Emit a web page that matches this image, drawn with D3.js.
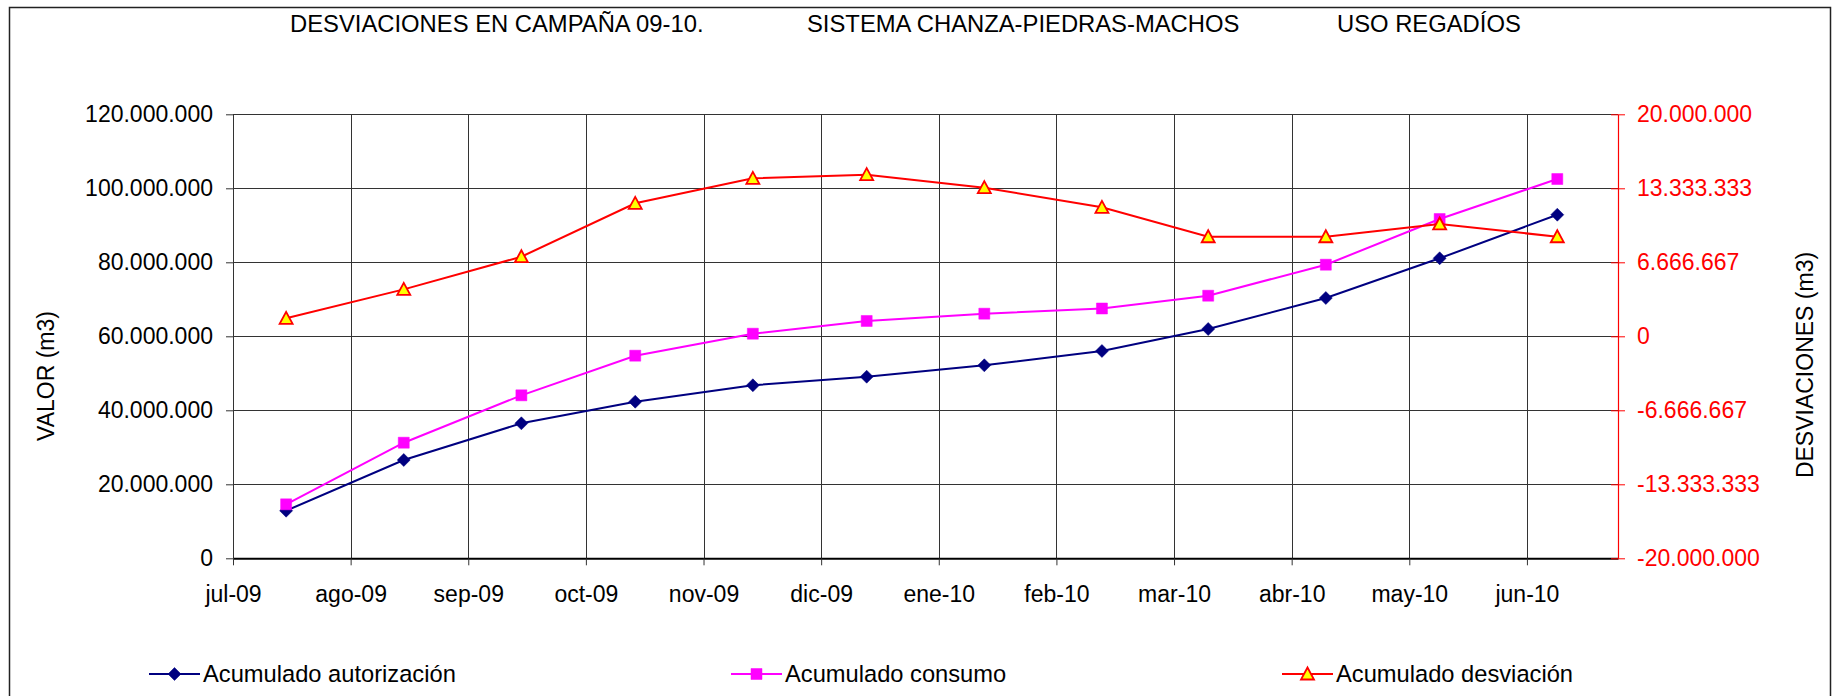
<!DOCTYPE html>
<html>
<head>
<meta charset="utf-8">
<script src="https://cdn.jsdelivr.net/npm/d3@7"></script>
<style>
  html, body { margin: 0; padding: 0; background: #fff; }
  svg { display: block; font-family: "Liberation Sans", Arial, sans-serif; }
</style>
</head>
<body>
<svg id="chart" width="1843" height="696"></svg>
<script>
// ---------- DATA ----------
const titleParts = ["DESVIACIONES EN CAMPAÑA 09-10.", "SISTEMA CHANZA-PIEDRAS-MACHOS", "USO REGADÍOS"];
const dates = ["2009-07-15","2009-08-15","2009-09-15","2009-10-15","2009-11-15","2009-12-15",
               "2010-01-15","2010-02-15","2010-03-15","2010-04-15","2010-05-15","2010-06-15"];
const autorizacion = [12860000, 26570000, 36490000, 42320000, 46760000, 49080000,
                      52160000, 56030000, 61970000, 70350000, 81080000, 92860000];
const consumo      = [14590000, 31240000, 44050000, 54760000, 60700000, 64140000,
                      66110000, 67510000, 70970000, 79350000, 91700000, 102510000];
const desviacion   = [1620000, 4230000, 7170000, 11980000, 14230000, 14560000,
                      13390000, 11620000, 8970000, 8970000, 10120000, 8970000];
const monthLabels = ["jul-09","ago-09","sep-09","oct-09","nov-09","dic-09",
                     "ene-10","feb-10","mar-10","abr-10","may-10","jun-10"];
const leftTicks  = [0, 20000000, 40000000, 60000000, 80000000, 100000000, 120000000];
const rightTicks = [-20000000, -13333333.33, -6666666.67, 0, 6666666.67, 13333333.33, 20000000];
const seriesNames = ["Acumulado autorización", "Acumulado consumo", "Acumulado desviación"];
const axisStart = "2009-07-01", axisEnd = "2010-07-01", tickStepDays = 31;

// ---------- SETUP ----------
(function () {
const svg = d3.select("#chart");
const FS = 23;
const pLeft = 233, pRight = 1618, pTop = 114.3, pBottom = 558.3;
const parse = d3.utcParse("%Y-%m-%d");
const locale = d3.formatLocale({decimal: ",", thousands: ".", grouping: [3], currency: ["", "€"], minus: "-"});
const fmt = locale.format(",.0f");

const x = d3.scaleUtc().domain([parse(axisStart), parse(axisEnd)]).range([pLeft, pRight]);
const yL = d3.scaleLinear().domain([0, 120000000]).range([pBottom, pTop]);
const yR = d3.scaleLinear().domain([-20000000, 20000000]).range([pBottom, pTop]);
const xTicks = monthLabels.map((_, i) => d3.utcDay.offset(parse(axisStart), tickStepDays * i));

// outer frame
svg.append("rect").attr("x", 9.5).attr("y", 7.5).attr("width", 1821).attr("height", 720)
  .attr("fill", "none").attr("stroke", "#222").attr("stroke-width", 1.5);

// title
const titleX = [290, 807, 1337];
titleParts.forEach((t, i) => {
  svg.append("text").attr("x", titleX[i]).attr("y", 32).attr("font-size", 23.8).attr("fill", "#000").text(t);
});

// gridlines
const grid = svg.append("g");
grid.selectAll("line.h").data(leftTicks.slice(1)).join("line")
  .attr("x1", pLeft).attr("x2", pRight)
  .attr("y1", d => Math.round(yL(d)) + 0.5).attr("y2", d => Math.round(yL(d)) + 0.5)
  .attr("stroke", "#333").attr("stroke-width", 1);
grid.selectAll("line.v").data(xTicks.slice(1)).join("line")
  .attr("x1", d => Math.round(x(d)) + 0.5).attr("x2", d => Math.round(x(d)) + 0.5)
  .attr("y1", pTop).attr("y2", pBottom)
  .attr("stroke", "#333").attr("stroke-width", 1);

// left axis
const gL = svg.append("g").attr("transform", `translate(${pLeft},0)`)
  .call(d3.axisLeft(yL).tickValues(leftTicks).tickFormat(fmt).tickSizeInner(7).tickSizeOuter(0).tickPadding(13));
gL.select(".domain").attr("stroke", "#333");
gL.selectAll(".tick line").attr("stroke", "#333");
gL.selectAll("text").attr("font-size", FS).attr("font-family", "Liberation Sans, Arial").attr("fill", "#000");

// x axis
const gX = svg.append("g").attr("transform", `translate(0,${pBottom})`)
  .call(d3.axisBottom(x).tickValues(xTicks).tickFormat((d, i) => monthLabels[i]).tickSizeInner(7).tickSizeOuter(0).tickPadding(20));
gX.select(".domain").attr("stroke", "#000").attr("stroke-width", 2);
gX.selectAll(".tick line").attr("stroke", "#333");
gX.selectAll("text").attr("font-size", FS).attr("font-family", "Liberation Sans, Arial").attr("fill", "#000");

// right axis
const gR = svg.append("g").attr("transform", `translate(${pRight},0)`)
  .call(d3.axisRight(yR).tickValues(rightTicks).tickFormat(fmt).tickSizeInner(7).tickSizeOuter(0).tickPadding(12));
gR.select(".domain").attr("stroke", "#f00").attr("stroke-width", 1.2);
gR.selectAll(".tick line").attr("stroke", "#f00").attr("x1", -7);
gR.selectAll("text").attr("font-size", FS).attr("font-family", "Liberation Sans, Arial").attr("fill", "#f00");

// axis titles
svg.append("text").attr("transform", `translate(46,376) rotate(-90)`).attr("text-anchor", "middle")
  .attr("dy", "0.35em").attr("font-size", FS).attr("fill", "#000").text("VALOR (m3)");
svg.append("text").attr("transform", `translate(1805,365) rotate(-90)`).attr("text-anchor", "middle")
  .attr("dy", "0.35em").attr("font-size", FS).attr("fill", "#000").text("DESVIACIONES (m3)");

// markers
const diamondPath = "M0,-6.5L6.5,0L0,6.5L-6.5,0Z";
const squarePath = "M-5.5,-5.5H5.5V5.5H-5.5Z";
const trianglePath = "M0,-6.5L6.5,5.5L-6.5,5.5Z";

const series = [
  {name: seriesNames[0], values: autorizacion, y: yL, color: "#000080", marker: diamondPath, fill: "#000080", mstroke: "#000080", msw: 0.5},
  {name: seriesNames[1], values: consumo, y: yL, color: "#ff00ff", marker: squarePath, fill: "#ff00ff", mstroke: "#ff00ff", msw: 0.5},
  {name: seriesNames[2], values: desviacion, y: yR, color: "#ff0000", marker: trianglePath, fill: "#ffff00", mstroke: "#ff0000", msw: 1.8}
];

series.forEach(s => {
  const pts = dates.map((d, i) => [x(parse(d)), s.y(s.values[i])]);
  svg.append("path").attr("d", d3.line()(pts)).attr("fill", "none")
    .attr("stroke", s.color).attr("stroke-width", 2);
  svg.append("g").selectAll("path").data(pts).join("path")
    .attr("transform", p => `translate(${p[0]},${p[1]})`)
    .attr("d", s.marker).attr("fill", s.fill).attr("stroke", s.mstroke).attr("stroke-width", s.msw);
});

// legend
const legendX = [149, 731, 1282];
const legendY = 674;
series.forEach((s, i) => {
  const g = svg.append("g").attr("transform", `translate(${legendX[i]},${legendY})`);
  g.append("line").attr("x1", 0).attr("x2", 51).attr("y1", 0).attr("y2", 0)
    .attr("stroke", s.color).attr("stroke-width", 2);
  g.append("path").attr("transform", "translate(25.5,0)").attr("d", s.marker)
    .attr("fill", s.fill).attr("stroke", s.mstroke).attr("stroke-width", s.msw);
  g.append("text").attr("x", 54).attr("y", 0).attr("dy", "0.35em").attr("font-size", 23.7)
    .attr("fill", "#000").text(s.name);
});
})();
</script>
</body>
</html>
